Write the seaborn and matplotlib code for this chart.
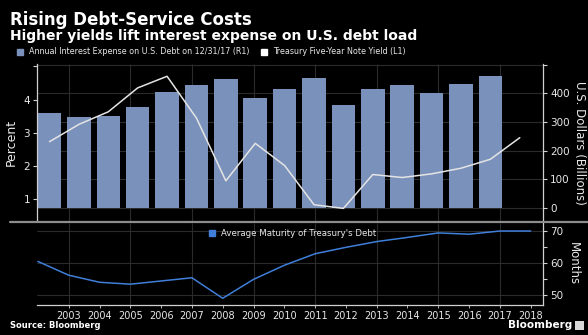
import matplotlib
matplotlib.use("Agg")
import matplotlib.pyplot as plt
import matplotlib.transforms as mtransforms
from matplotlib.lines import Line2D
from matplotlib.patches import Rectangle
from matplotlib.ticker import FixedLocator
import seaborn as sns

# ---- data -------------------------------------------------------------
bar_years = list(range(2002, 2018))
interest_expense = [333.0, 318.1, 321.6, 352.3, 405.9, 429.9, 451.2, 383.1,
                    413.9, 454.4, 359.8, 415.7, 430.0, 402.4, 432.6, 458.5]

yield_years = list(range(2002, 2019))
five_year_yield = [2.73, 3.25, 3.63, 4.35, 4.70, 3.44, 1.55, 2.68, 2.01,
                   0.83, 0.72, 1.74, 1.65, 1.76, 1.93, 2.20, 2.85]

maturity_years = list(range(2002, 2019))
avg_maturity = [60.5, 56.2, 54.0, 53.4, 54.4, 55.4, 49.0, 54.9, 59.3,
                62.9, 64.9, 66.7, 68.0, 69.4, 69.0, 70.0, 70.0]

x_tick_years = list(range(2003, 2019))
grid_years = list(range(2003, 2018, 2))

pct_ticks = [1, 2, 3, 4, 5]
pct_labels = ["1", "2", "3", "4", ""]
usd_ticks = [0, 100, 200, 300, 400, 500]
usd_labels = ["0", "100", "200", "300", "400", ""]
month_ticks = [50, 60, 70]
month_minor = [55, 65]

# ---- style ------------------------------------------------------------
BG = "#000000"
BAR = "#7a91bb"
YIELD = "#e4e4e4"
MAT = "#3f7fd9"
GRID = "#2b2b2b"
SPINE = "#d0d0d0"
TXT = "#e8e8e8"

sns.set_style("dark", rc={"axes.facecolor": BG, "figure.facecolor": BG,
                          "axes.edgecolor": SPINE, "grid.color": GRID})
plt.rcParams["font.family"] = ["DejaVu Sans"]
plt.rcParams["xtick.color"] = SPINE
plt.rcParams["ytick.color"] = SPINE

fig = plt.figure(figsize=(5.88, 3.35), dpi=100)
W, H = 588, 335

def rect(x0, y0, x1, y1):
    return [x0 / W, 1 - y1 / H, (x1 - x0) / W, (y1 - y0) / H]

ax_top = fig.add_axes(rect(37, 64, 543, 221))
ax_bot = fig.add_axes(rect(37, 223, 543, 305))

# ---- top panel: bars (right axis) -------------------------------------
sns.barplot(x=bar_years, y=interest_expense, native_scale=True,
            color=BAR, saturation=1, width=0.8, ax=ax_top, zorder=2,
            edgecolor="none", linewidth=0)

# yield line on a twin axis, drawn above the bars (left axis)
ax_pct = ax_top.twinx()
sns.lineplot(x=yield_years, y=five_year_yield, color=YIELD, lw=1.1, ax=ax_pct)

ax_top.set_xlim(2001.575, 2018.79)
ax_top.set_ylim(-45, 502)
ax_top.yaxis.tick_right()
ax_top.yaxis.set_label_position("right")
ax_top.set_yticks(usd_ticks)
ax_top.set_yticklabels(usd_labels)
ax_top.set_xticks([])
ax_top.grid(axis="y", color=GRID, lw=0.8, zorder=0)
ax_top.set_axisbelow(True)
for s in ax_top.spines.values():
    s.set_visible(False)
ax_top.tick_params(axis="y", direction="out", length=3, width=0.8, pad=2,
                   labelsize=7.5, labelcolor=TXT, right=True, left=False,
                   labelright=True, labelleft=False)
ax_top.set_ylabel("U.S. Dollars (Billions)", color=TXT, fontsize=8.5,
                  rotation=270, labelpad=12)

ax_pct.set_ylim(0.34, 5.07)
ax_pct.yaxis.tick_left()
ax_pct.yaxis.set_label_position("left")
ax_pct.set_yticks(pct_ticks)
ax_pct.set_yticklabels(pct_labels)
ax_pct.grid(False)
for name, s in ax_pct.spines.items():
    s.set_visible(name in ("left", "right"))
    s.set_color(SPINE)
    s.set_linewidth(0.9)
ax_pct.tick_params(axis="y", direction="out", length=3, width=0.8, pad=2,
                   labelsize=7.5, labelcolor=TXT, left=True, right=False,
                   labelleft=True, labelright=False)
ax_pct.set_ylabel("Percent", color=TXT, fontsize=9, labelpad=4)

# vertical grid shared with the lower panel's year scale
vtrans = mtransforms.blended_transform_factory(ax_bot.transData, ax_top.transAxes)
ax_top.vlines(grid_years, 0, 1, transform=vtrans, color=GRID, lw=0.8, zorder=0)

# ---- bottom panel: average maturity ------------------------------------
sns.lineplot(x=maturity_years, y=avg_maturity, color=MAT, lw=1.1, ax=ax_bot)
ax_bot.set_xlim(2001.97, 2018.4)
ax_bot.set_ylim(46.9, 72.5)
ax_bot.yaxis.tick_right()
ax_bot.yaxis.set_label_position("right")
ax_bot.set_yticks(month_ticks)
ax_bot.yaxis.set_minor_locator(FixedLocator(month_minor))
ax_bot.set_xticks(x_tick_years)
ax_bot.set_xticklabels([str(y) for y in x_tick_years])
ax_bot.grid(axis="y", color=GRID, lw=0.8)
ax_bot.vlines(grid_years, 0, 1, transform=ax_bot.get_xaxis_transform(),
              color=GRID, lw=0.8, zorder=0)
ax_bot.set_axisbelow(True)
for name, s in ax_bot.spines.items():
    s.set_visible(name in ("right", "bottom"))
    s.set_color(SPINE)
    s.set_linewidth(0.9)
ax_bot.tick_params(axis="y", which="both", direction="out", length=3,
                   width=0.8, pad=2, labelsize=7.5, labelcolor=TXT,
                   right=True, left=False)
ax_bot.tick_params(axis="x", direction="out", length=2, width=0.6, pad=2,
                   labelsize=7, labelcolor=TXT, bottom=True)
ax_bot.set_ylabel("Months", color=TXT, fontsize=8.5, rotation=270, labelpad=12)
ax_bot.set_xlabel("")
ax_bot.legend(handles=[Line2D([], [], marker="s", ls="", color=MAT, markersize=4)],
              labels=["Average Maturity of Treasury's Debt"], loc="upper center",
              bbox_to_anchor=(0.5, 1.02), frameon=False, fontsize=6.2,
              handletextpad=0.1, labelcolor=TXT)

# separator between panels
fig.add_artist(Line2D([10 / W, 1.0], [1 - 222 / H] * 2, color="#8d8d8d", lw=1.6))

# ---- titles, legend, footer ------------------------------------------
fig.text(10 / W, 1 - 20 / H, "Rising Debt-Service Costs", color="white",
         fontsize=12, fontweight="bold", va="center")
fig.text(10 / W, 1 - 36 / H, "Higher yields lift interest expense on U.S. debt load",
         color="white", fontsize=10, fontweight="bold", va="center")
fig.legend(handles=[Line2D([], [], marker="s", ls="", color=BAR, markersize=4),
                    Line2D([], [], marker="s", ls="", color="white", markersize=4)],
           labels=["Annual Interest Expense on U.S. Debt on 12/31/17 (R1)",
                   "Treasury Five-Year Note Yield (L1)"],
           loc="center left", bbox_to_anchor=(12 / W, 1 - 52 / H), ncol=2,
           frameon=False, fontsize=5.8, handletextpad=0.1, columnspacing=0.8,
           labelcolor=TXT, borderaxespad=0, borderpad=0)

fig.text(10 / W, 1 - 326 / H, "Source: Bloomberg", color="white", fontsize=6,
         fontweight="bold", va="center")
fig.text(572 / W, 1 - 325 / H, "Bloomberg", color="white", fontsize=7.5,
         fontweight="bold", ha="right", va="center")
fig.add_artist(Rectangle((575 / W, 1 - 330 / H), 9 / W, 9 / H,
                         transform=fig.transFigure, facecolor="#d8d8d8",
                         edgecolor="none"))

fig.savefig("out.png", dpi=100, facecolor=BG)
